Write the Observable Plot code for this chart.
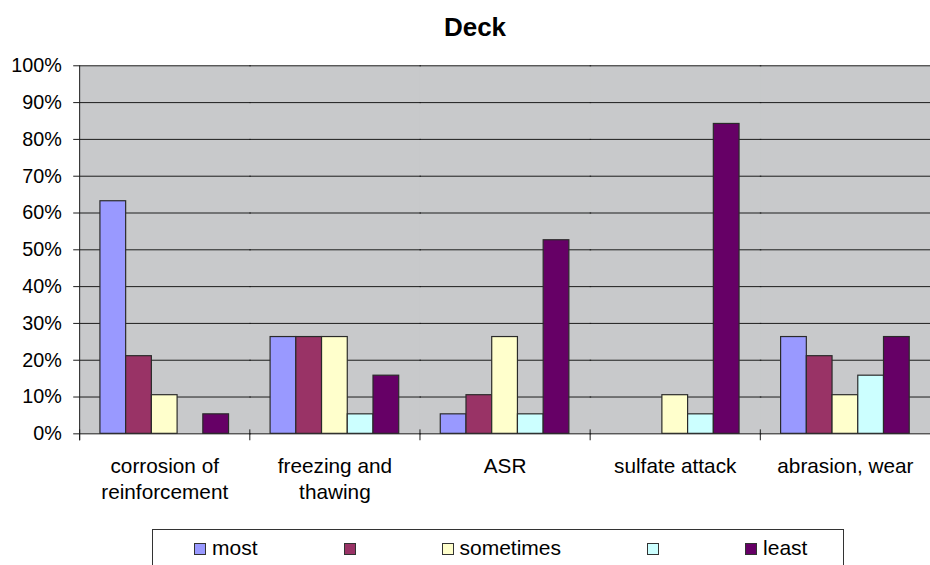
<!DOCTYPE html>
<html>
<head>
<meta charset="utf-8">
<script src="https://cdn.jsdelivr.net/npm/d3@7"></script>
<script src="https://cdn.jsdelivr.net/npm/@observablehq/plot@0.6"></script>
<style>
  html, body { margin: 0; padding: 0; background: #fff; overflow: hidden; }
  body { width: 930px; height: 565px; position: relative; font-family: "Liberation Sans", Arial, sans-serif; color: #000; }
  #title { position: absolute; left: 0; top: 14px; width: 950px; text-align: center; font-weight: bold; font-size: 26px; line-height: 26px; }
  #chart { position: absolute; left: 0; top: 0; }
  #legend { position: absolute; left: 152px; top: 529px; width: 690px; height: 60px; border: 1px solid #333; box-sizing: content-box; }
  #legend .row { display: flex; align-items: baseline; gap: 86px; padding-left: 41px; padding-top: 7px; font-size: 21px; line-height: 21px; }
  #legend .item { display: flex; align-items: baseline; }
  #legend .sw { width: 10px; height: 10px; border: 1px solid #333; }
  #legend .lab { margin-left: 6px; }
</style>
</head>
<body>
<div id="title">Deck</div>
<div id="chart"></div>
<div id="legend"><div class="row"></div></div>
<script>
// Damage mechanisms (categories) and the share of answers in each rank
const categories = ["corrosion of reinforcement", "freezing and thawing", "ASR", "sulfate attack", "abrasion, wear"];
const categoryLabels = ["corrosion of\nreinforcement", "freezing and\nthawing", "ASR", "sulfate attack", "abrasion, wear"];

const seriesKeys = ["most", "rank2", "sometimes", "rank4", "least"];
const seriesLabels = ["most", "", "sometimes", "", "least"];

const most      = [0.632, 0.263, 0.053, 0,     0.263];
const rank2     = [0.211, 0.263, 0.105, 0,     0.211];
const sometimes = [0.105, 0.263, 0.263, 0.105, 0.105];
const rank4     = [0,     0.053, 0.053, 0.053, 0.158];
const least     = [0.053, 0.158, 0.526, 0.842, 0.263];

const yTicks = [0, 0.1, 0.2, 0.3, 0.4, 0.5, 0.6, 0.7, 0.8, 0.9, 1];

const seriesValues = [most, rank2, sometimes, rank4, least];
const colors = ["#9999ff", "#993366", "#ffffcc", "#ccffff", "#660066"];

const rows = categories.flatMap((c, i) =>
  seriesKeys.map((s, j) => ({category: c, series: s, value: seriesValues[j][i]}))
).filter(d => d.value > 0);

const labelOf = new Map(categories.map((c, i) => [c, categoryLabels[i]]));
const ink = "#1a1a1a";

const chart = Plot.plot({
  width: 940,
  height: 524,
  marginTop: 66,
  marginBottom: 86,
  marginLeft: 80,
  marginRight: 0,
  style: {fontFamily: "'Liberation Sans', Arial, sans-serif", color: "#000", background: "transparent", overflow: "visible"},
  fx: {domain: categories, padding: 0},
  x: {domain: seriesKeys, paddingInner: 0, paddingOuter: 0.7, axis: null},
  y: {domain: [0, 1]},
  color: {domain: seriesKeys, range: colors},
  marks: [
    // plot-area fill; each panel overlaps its neighbour slightly so no seam shows
    Plot.frame({fill: "#c8c9cb", stroke: "none", insetRight: -1.5}),
    Plot.ruleY(yTicks, {stroke: ink, strokeWidth: 1, insetRight: -1.5}),
    Plot.barY(rows, {fx: "category", x: "series", y: "value", fill: "series", stroke: "#2a2a2a", strokeWidth: 1.2}),
    // value axis line and the category separator ticks under the baseline
    Plot.frame({anchor: "left", facetAnchor: "left", stroke: ink, insetBottom: -6}),
    Plot.frame({anchor: "left", stroke: ink, insetTop: 368, insetBottom: -6}),
    Plot.axisY({ticks: yTicks, tickFormat: d => `${Math.round(d * 100)}%`, tickSize: 6, tickPadding: 12, fontSize: 20, label: null, stroke: ink}),
    Plot.axisFx({anchor: "bottom", tickSize: 0, tickPadding: 20, fontSize: 21, lineHeight: 1.29, label: null, tickFormat: k => labelOf.get(k)})
  ]
});
document.getElementById("chart").appendChild(chart);

// legend entries
const row = document.querySelector("#legend .row");
seriesKeys.forEach((k, i) => {
  const item = document.createElement("div");
  item.className = "item";
  const sw = document.createElement("span");
  sw.className = "sw";
  sw.style.background = colors[i];
  item.appendChild(sw);
  if (seriesLabels[i]) {
    const lab = document.createElement("span");
    lab.className = "lab";
    lab.textContent = seriesLabels[i];
    item.appendChild(lab);
  }
  row.appendChild(item);
});
</script>
</body>
</html>
